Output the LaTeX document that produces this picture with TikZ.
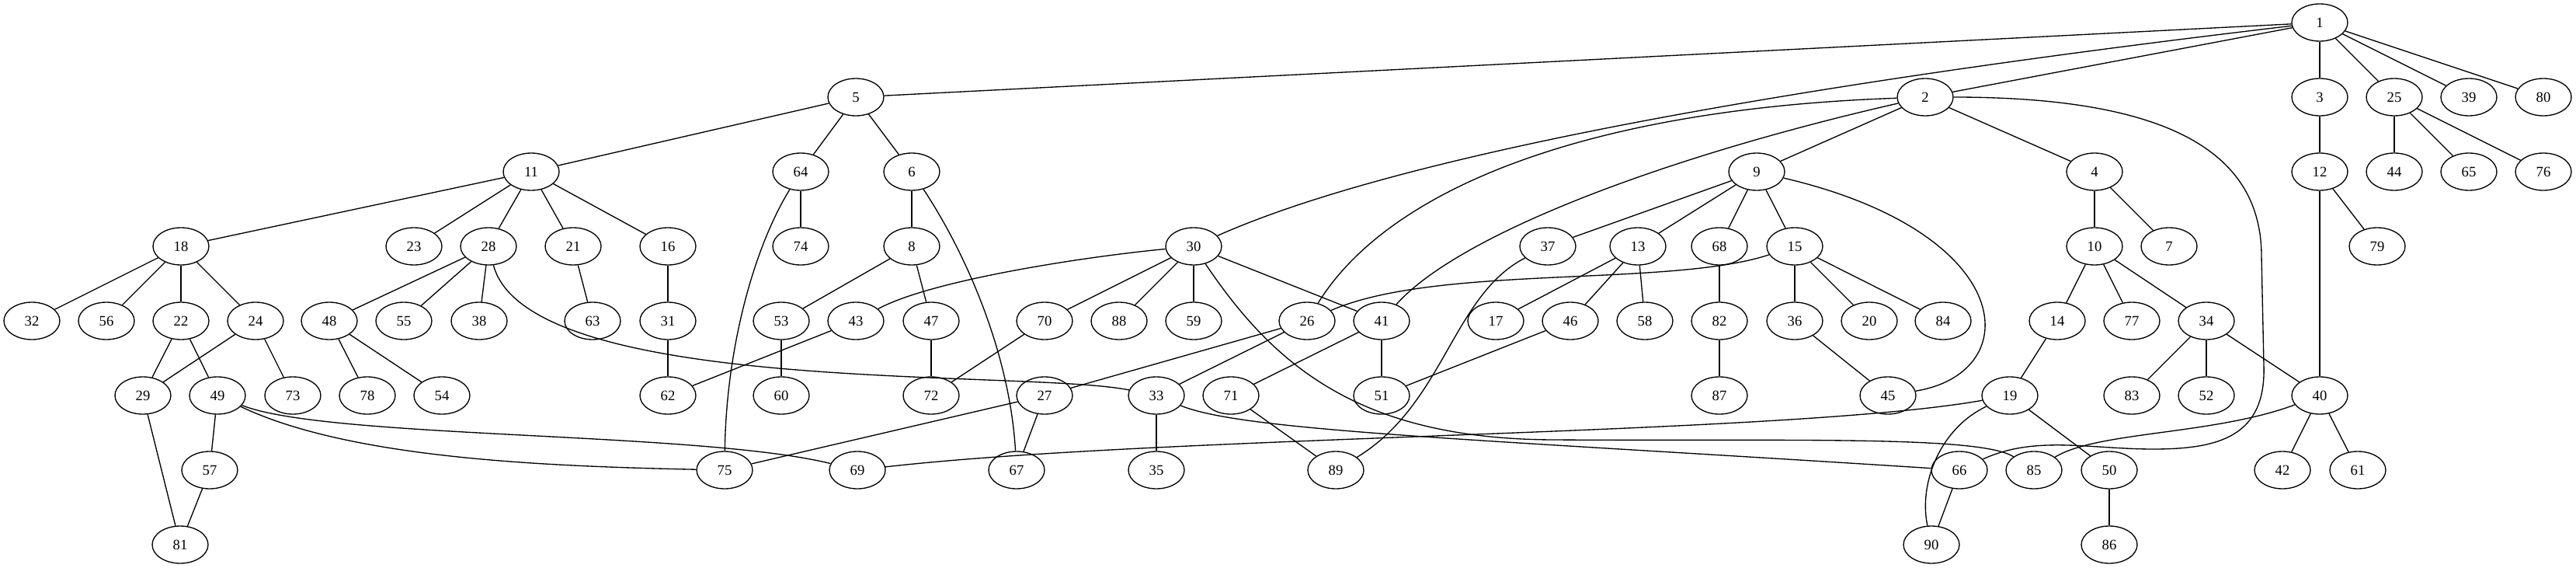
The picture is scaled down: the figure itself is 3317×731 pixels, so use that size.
\documentclass[tikz,border=0pt]{standalone}
\usepackage{fontspec}
\setmainfont{Liberation Serif}
\usepackage{tikz}
\usetikzlibrary{shapes.geometric}

\begin{document}
\begin{tikzpicture}[x=0.75pt, y=-0.75pt, line width=1pt,
    vtx/.style={draw, ellipse, minimum width=54pt, minimum height=36pt, inner sep=0pt, font=\fontsize{14}{16}\selectfont}]
    \useasboundingbox (0,0) rectangle (3317,731);

    \node (v1) [vtx] at (2987,29) {1};
    \node (v2) [vtx] at (2479,125) {2};
    \node (v3) [vtx] at (2987,125) {3};
    \node (v5) [vtx] at (1102,125) {5};
    \node (v25) [vtx] at (3083,125) {25};
    \node (v39) [vtx] at (3179,125) {39};
    \node (v80) [vtx] at (3275,125) {80};
    \node (v4) [vtx] at (2697,221) {4};
    \node (v6) [vtx] at (1174,221) {6};
    \node (v9) [vtx] at (2262,221) {9};
    \node (v11) [vtx] at (684,221) {11};
    \node (v12) [vtx] at (2987,221) {12};
    \node (v44) [vtx] at (3083,221) {44};
    \node (v64) [vtx] at (1031,221) {64};
    \node (v65) [vtx] at (3179,221) {65};
    \node (v76) [vtx] at (3275,221) {76};
    \node (v7) [vtx] at (2793,317) {7};
    \node (v8) [vtx] at (1174,317) {8};
    \node (v10) [vtx] at (2697,317) {10};
    \node (v13) [vtx] at (2109,317) {13};
    \node (v15) [vtx] at (2311,317) {15};
    \node (v16) [vtx] at (860,317) {16};
    \node (v18) [vtx] at (233,317) {18};
    \node (v21) [vtx] at (738,317) {21};
    \node (v23) [vtx] at (533,317) {23};
    \node (v28) [vtx] at (629,317) {28};
    \node (v30) [vtx] at (1537,317) {30};
    \node (v37) [vtx] at (1993,317) {37};
    \node (v68) [vtx] at (2214,317) {68};
    \node (v74) [vtx] at (1031,317) {74};
    \node (v79) [vtx] at (3061,317) {79};
    \node (v14) [vtx] at (2649,413) {14};
    \node (v17) [vtx] at (1926,413) {17};
    \node (v20) [vtx] at (2407,413) {20};
    \node (v22) [vtx] at (233,413) {22};
    \node (v24) [vtx] at (329,413) {24};
    \node (v26) [vtx] at (1683,413) {26};
    \node (v31) [vtx] at (860,413) {31};
    \node (v32) [vtx] at (41,413) {32};
    \node (v34) [vtx] at (2841,413) {34};
    \node (v36) [vtx] at (2311,413) {36};
    \node (v38) [vtx] at (617,413) {38};
    \node (v41) [vtx] at (1779,413) {41};
    \node (v43) [vtx] at (1102,413) {43};
    \node (v46) [vtx] at (2022,413) {46};
    \node (v47) [vtx] at (1199,413) {47};
    \node (v48) [vtx] at (424,413) {48};
    \node (v53) [vtx] at (1006,413) {53};
    \node (v55) [vtx] at (520,413) {55};
    \node (v56) [vtx] at (137,413) {56};
    \node (v58) [vtx] at (2118,413) {58};
    \node (v59) [vtx] at (1537,413) {59};
    \node (v63) [vtx] at (763,413) {63};
    \node (v70) [vtx] at (1345,413) {70};
    \node (v77) [vtx] at (2745,413) {77};
    \node (v82) [vtx] at (2214,413) {82};
    \node (v84) [vtx] at (2502,413) {84};
    \node (v88) [vtx] at (1441,413) {88};
    \node (v19) [vtx] at (2588,509) {19};
    \node (v27) [vtx] at (1345,509) {27};
    \node (v29) [vtx] at (184,509) {29};
    \node (v33) [vtx] at (1489,509) {33};
    \node (v40) [vtx] at (2987,509) {40};
    \node (v45) [vtx] at (2431,509) {45};
    \node (v49) [vtx] at (280,509) {49};
    \node (v51) [vtx] at (1779,509) {51};
    \node (v52) [vtx] at (2841,509) {52};
    \node (v54) [vtx] at (569,509) {54};
    \node (v60) [vtx] at (1006,509) {60};
    \node (v62) [vtx] at (860,509) {62};
    \node (v71) [vtx] at (1585,509) {71};
    \node (v72) [vtx] at (1199,509) {72};
    \node (v73) [vtx] at (377,509) {73};
    \node (v78) [vtx] at (473,509) {78};
    \node (v83) [vtx] at (2745,509) {83};
    \node (v87) [vtx] at (2214,509) {87};
    \node (v35) [vtx] at (1489,605) {35};
    \node (v42) [vtx] at (2939,605) {42};
    \node (v50) [vtx] at (2716,605) {50};
    \node (v57) [vtx] at (270,605) {57};
    \node (v61) [vtx] at (3036,605) {61};
    \node (v66) [vtx] at (2523,605) {66};
    \node (v67) [vtx] at (1309,605) {67};
    \node (v69) [vtx] at (1104,605) {69};
    \node (v75) [vtx] at (933,605) {75};
    \node (v85) [vtx] at (2619,605) {85};
    \node (v89) [vtx] at (1720,605) {89};
    \node (v81) [vtx] at (232,701) {81};
    \node (v86) [vtx] at (2716,701) {86};
    \node (v90) [vtx] at (2487,701) {90};

    \draw (v1) -- (v5);
    \draw (v1) -- (v2);
    \draw (v1) .. controls (2300,110) and (1800,200) .. (v30);
    \draw (v1) -- (v3);
    \draw (v1) -- (v25);
    \draw (v1) -- (v39);
    \draw (v1) -- (v80);
    \draw (v2) -- (v9);
    \draw (v2) -- (v4);
    \draw (v2) .. controls (2050,140) and (1790,240) .. (v26);
    \draw (v2) .. controls (2150,200) and (1880,300) .. (v41);
    \draw (v2) .. controls (2800,125) and (2912,200) .. (2912,330) -- (2915,470) .. controls (2918,560) and (2860,578) .. (2773,578) .. controls (2690,578) and (2620,560) .. (v66);
    \draw (v3) -- (v12);
    \draw (v4) -- (v10);
    \draw (v4) -- (v7);
    \draw (v5) -- (v11);
    \draw (v5) -- (v64);
    \draw (v5) -- (v6);
    \draw (v6) -- (v8);
    \draw (v6) .. controls (1240,320) and (1300,450) .. (v67);
    \draw (v8) -- (v53);
    \draw (v8) -- (v47);
    \draw (v9) -- (v37);
    \draw (v9) -- (v13);
    \draw (v9) -- (v68);
    \draw (v9) -- (v15);
    \draw (v9) .. controls (2600,300) and (2610,480) .. (v45);
    \draw (v10) -- (v14);
    \draw (v10) -- (v77);
    \draw (v10) -- (v34);
    \draw (v11) -- (v18);
    \draw (v11) -- (v23);
    \draw (v11) -- (v28);
    \draw (v11) -- (v21);
    \draw (v11) -- (v16);
    \draw (v12) -- (v40);
    \draw (v12) -- (v79);
    \draw (v13) -- (v17);
    \draw (v13) -- (v46);
    \draw (v13) -- (v58);
    \draw (v14) -- (v19);
    \draw (v15) .. controls (2150,370) and (1850,340) .. (v26);
    \draw (v15) -- (v36);
    \draw (v15) -- (v20);
    \draw (v15) -- (v84);
    \draw (v16) -- (v31);
    \draw (v18) -- (v32);
    \draw (v18) -- (v56);
    \draw (v18) -- (v22);
    \draw (v18) -- (v24);
    \draw (v19) .. controls (2300,560) and (1500,560) .. (v69);
    \draw (v19) -- (v50);
    \draw (v19) .. controls (2500,550) and (2470,620) .. (v90);
    \draw (v21) -- (v63);
    \draw (v22) -- (v29);
    \draw (v22) -- (v49);
    \draw (v24) -- (v29);
    \draw (v24) -- (v73);
    \draw (v25) -- (v44);
    \draw (v25) -- (v65);
    \draw (v25) -- (v76);
    \draw (v26) -- (v27);
    \draw (v26) -- (v33);
    \draw (v27) -- (v75);
    \draw (v27) -- (v67);
    \draw (v28) -- (v48);
    \draw (v28) -- (v55);
    \draw (v28) -- (v38);
    \draw (v28) .. controls (680,510) and (1320,475) .. (v33);
    \draw (v29) -- (v81);
    \draw (v30) .. controls (1400,330) and (1200,360) .. (v43);
    \draw (v30) -- (v70);
    \draw (v30) -- (v88);
    \draw (v30) -- (v59);
    \draw (v30) -- (v41);
    \draw (v30) .. controls (1640,470) and (1750,565) .. (2000,566) .. controls (2300,568) and (2550,560) .. (v85);
    \draw (v31) -- (v62);
    \draw (v33) -- (v35);
    \draw (v33) .. controls (1600,555) and (1900,565) .. (v66);
    \draw (v34) -- (v83);
    \draw (v34) -- (v52);
    \draw (v34) -- (v40);
    \draw (v36) -- (v45);
    \draw (v37) .. controls (1870,380) and (1860,520) .. (v89);
    \draw (v40) -- (v42);
    \draw (v40) -- (v61);
    \draw (v40) .. controls (2850,560) and (2700,555) .. (v85);
    \draw (v41) -- (v51);
    \draw (v41) -- (v71);
    \draw (v43) -- (v62);
    \draw (v46) -- (v51);
    \draw (v47) -- (v72);
    \draw (v48) -- (v78);
    \draw (v48) -- (v54);
    \draw (v49) -- (v57);
    \draw (v49) .. controls (450,590) and (700,600) .. (v75);
    \draw (v49) .. controls (420,565) and (900,555) .. (v69);
    \draw (v50) -- (v86);
    \draw (v53) -- (v60);
    \draw (v57) -- (v81);
    \draw (v64) -- (v74);
    \draw (v64) .. controls (970,320) and (935,450) .. (v75);
    \draw (v66) -- (v90);
    \draw (v68) -- (v82);
    \draw (v70) -- (v72);
    \draw (v71) -- (v89);
    \draw (v82) -- (v87);
\end{tikzpicture}
\end{document}
